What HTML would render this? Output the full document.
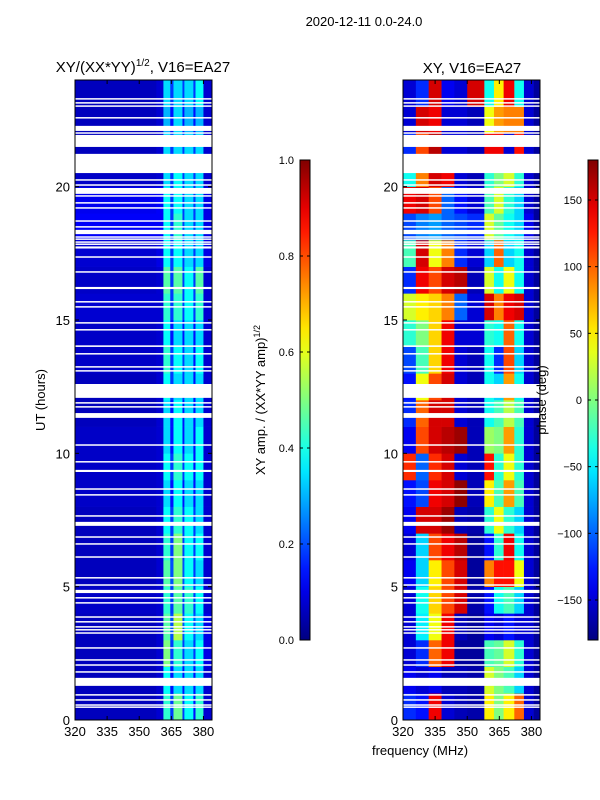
<!DOCTYPE html>
<html><head><meta charset="utf-8"><style>
html,body{margin:0;padding:0;background:#fff;}
svg{display:block;font-family:"Liberation Sans",sans-serif;}
</style></head><body>
<svg id="fig" width="600" height="800" xmlns="http://www.w3.org/2000/svg">
<rect x="0" y="0" width="600" height="800" fill="#fff"/>
<text x="364" y="26" font-size="13" text-anchor="middle">2020-12-11 0.0-24.0</text>
<text x="143" y="72" font-size="15" text-anchor="middle">XY/(XX*YY)<tspan font-size="10" dy="-6">1/2</tspan><tspan dy="6">, V16=EA27</tspan></text>
<text x="472" y="73" font-size="15" text-anchor="middle">XY, V16=EA27</text>
<text transform="translate(45,400) rotate(-90)" font-size="13" text-anchor="middle">UT (hours)</text>
<text transform="translate(265,400) rotate(-90)" font-size="13" text-anchor="middle">XY amp. / (XX*YY amp)<tspan font-size="9" dy="-5">1/2</tspan></text>
<text x="420" y="755" font-size="13" text-anchor="middle">frequency (MHz)</text>
<g id="ampPlot"></g>
<g id="phPlot"></g>
<g id="cb1"></g>
<g id="cb2"></g>
<text transform="translate(546,400) rotate(-90)" font-size="13" text-anchor="middle">phase (deg)</text>
</svg>
<script>
const xTicks=[320,335,350,365,380];
const yTicks=[0,5,10,15,20];
const ampTicks=[0.0,0.2,0.4,0.6,0.8,1.0];
const phTicks=[-150,-100,-50,0,50,100,150];
const ampFreqEdges=[320,358,361.3,364.5,366,370.2,371.1,375.3,376.3,380,384];
const ampRows=[
[0.06,0.08,0.42,0.18,0.48,0.18,0.38,0.14,0.42,0.08],
[0.06,0.08,0.38,0.14,0.34,0.14,0.34,0.14,0.34,0.08],
[0.06,0.08,0.5,0.18,0.42,0.18,0.34,0.18,0.38,0.1],
[0.06,0.08,0.46,0.2,0.55,0.2,0.38,0.2,0.34,0.1],
[0.07,0.08,0.42,0.18,0.46,0.18,0.42,0.18,0.38,0.08],
[0.06,0.08,0.46,0.2,0.5,0.2,0.38,0.18,0.34,0.08],
[0.06,0.08,0.42,0.18,0.5,0.18,0.38,0.18,0.38,0.08],
[0.06,0.08,0.38,0.18,0.42,0.18,0.38,0.18,0.34,0.08],
[0.07,0.08,0.34,0.14,0.38,0.14,0.34,0.14,0.34,0.08],
[0.07,0.08,0.38,0.18,0.42,0.18,0.38,0.14,0.38,0.08],
[0.07,0.08,0.34,0.14,0.38,0.14,0.34,0.14,0.38,0.08],
[0.06,0.08,0.34,0.14,0.38,0.14,0.34,0.14,0.34,0.08],
[0.06,0.08,0.38,0.18,0.34,0.18,0.34,0.14,0.34,0.08],
[0.07,0.08,0.42,0.18,0.38,0.18,0.34,0.14,0.38,0.08],
[0.07,0.08,0.38,0.14,0.34,0.14,0.34,0.14,0.34,0.08],
[0.08,0.08,0.42,0.18,0.42,0.18,0.38,0.18,0.42,0.08],
[0.07,0.08,0.46,0.18,0.46,0.18,0.38,0.18,0.46,0.08],
[0.08,0.1,0.38,0.18,0.38,0.18,0.34,0.18,0.34,0.1],
[0.12,0.12,0.38,0.18,0.42,0.18,0.34,0.18,0.34,0.1],
[0.11,0.12,0.38,0.18,0.38,0.18,0.34,0.18,0.34,0.1],
[0.07,0.08,0.34,0.18,0.38,0.18,0.34,0.18,0.34,0.08],
[0.06,0.08,0.34,0.18,0.34,0.18,0.34,0.18,0.34,0.08],
[0.06,0.08,0.3,0.14,0.34,0.14,0.3,0.14,0.3,0.08],
[0.06,0.08,0.34,0.18,0.34,0.18,0.34,0.18,0.38,0.08]
];
const phFreqEdges=[320,326,332,338,344,350,358,362.5,367,372,376.5,381,384];
const phRows=[
[-120,-130,140,-150,-160,-165,50,0,50,100,-150,-170],
[-140,-150,-140,-160,-160,-165,30,0,-20,-60,-150,-170],
[-150,-120,100,140,-170,-170,-20,-10,30,-30,-150,-170],
[-150,-50,40,140,-160,-170,-140,-150,-130,-150,-150,-170],
[-150,-40,60,110,150,-165,-130,-40,-20,-60,-150,-170],
[-140,-60,50,110,150,-170,90,130,130,40,-150,-170],
[-150,-60,110,140,160,-170,-130,-30,140,-40,-150,-170],
[-140,150,150,170,-160,-165,-30,40,-30,-60,-150,-170],
[-130,-110,140,150,175,-160,50,-20,80,-20,-150,-170],
[120,-100,120,150,-150,-160,130,-30,40,-30,-150,-170],
[-140,110,150,160,170,-160,10,0,80,-30,-150,-170],
[-120,100,150,150,-150,-160,-40,-20,20,-20,-150,-170],
[-130,40,110,150,-150,-160,-40,-60,80,-40,-150,-170],
[-110,-20,60,140,-150,-160,-40,-120,110,-60,-150,-170],
[-30,0,60,140,-150,-150,-30,-40,100,-40,-150,-170],
[30,50,60,90,-100,-150,150,90,140,150,-150,-170],
[-120,140,110,150,160,-160,30,-40,40,-40,-150,-170],
[-20,150,40,90,-120,-150,-60,100,-60,-40,-150,-170],
[-110,-90,-80,-100,-110,-120,30,-10,-40,-60,-140,-170],
[140,150,110,-100,-130,-150,-20,30,-30,-60,-150,-170],
[-40,90,150,140,-150,-160,-30,0,30,-30,-150,-170],
[-120,110,160,-150,-150,-160,140,140,-150,130,-150,-170],
[-150,150,140,-150,-150,-160,40,80,90,90,-150,-170],
[-150,-120,150,-140,-150,150,-40,50,140,-40,-150,-170]
];
const gaps=[[23.27,23.32],[23.12,23.17],[23.0,23.05],[22.56,22.61],[22.09,22.28],[21.99,22.04],[21.49,21.94],[20.51,21.23],[20.23,20.28],[20.04,20.09],[19.73,19.95],[19.63,19.68],[19.37,19.42],[19.18,19.23],[18.69,18.74],[18.47,18.52],[18.22,18.38],[18.09,18.14],[18.02,18.06],[17.91,17.95],[17.83,17.87],[17.68,17.76],[17.34,17.39],[16.78,16.83],[16.16,16.24],[15.66,15.71],[15.47,15.52],[14.87,14.92],[14.61,14.66],[13.99,14.05],[13.71,13.76],[13.22,13.27],[13.07,13.12],[12.08,12.6],[11.87,11.92],[11.72,11.77],[11.33,11.51],[10.29,10.34],[9.66,9.71],[9.3,9.38],[8.64,8.69],[8.42,8.47],[7.63,7.68],[7.28,7.43],[6.84,6.89],[6.58,6.63],[6.09,6.14],[5.31,5.36],[5.04,5.09],[4.76,4.88],[4.56,4.61],[4.37,4.42],[3.84,3.89],[3.66,3.71],[3.47,3.52],[3.36,3.41],[3.24,3.29],[2.68,2.73],[2.23,2.28],[2.04,2.09],[1.78,1.83],[1.28,1.58],[0.92,0.97],[0.73,0.78],[0.54,0.59],[0.47,0.51]];

const NS='http://www.w3.org/2000/svg';
function mk(tag,attrs,parent){const e=document.createElementNS(NS,tag);for(const k in attrs)e.setAttribute(k,attrs[k]);parent.appendChild(e);return e;}
function clip(v){return Math.max(0,Math.min(1,v));}
function jet(x){const r=clip(1.5-Math.abs(4*x-3)),g=clip(1.5-Math.abs(4*x-2)),b=clip(1.5-Math.abs(4*x-1));return 'rgb('+Math.round(r*255)+','+Math.round(g*255)+','+Math.round(b*255)+')';}
const T=80,B=720,H=B-T;
function yScale(h){return B-h/24*H;}
function makeX(left,w){return f=>left+(f-320)/64*w;}

function panel(g,left,w,edges,rows,norm){
  const xs=makeX(left,w);
  for(let i=0;i<rows.length;i++){
    for(let j=0;j<rows[i].length;j++){
      const x0=xs(edges[j]),x1=xs(edges[j+1]);
      const y0=yScale(i+1),y1=yScale(i);
      const r=mk('rect',{x:x0,y:y0,width:x1-x0+0.3,height:y1-y0+0.3,fill:jet(norm(rows[i][j]))},g);
      
      
    }
  }
  for(const gp of gaps){
    const y0=yScale(gp[1]),y1=yScale(gp[0]);
    const r=mk('rect',{x:left,y:y0,width:w,height:Math.max(1.5,y1-y0),fill:'#fff'},g);
    
    
  }
  const fr=mk('rect',{x:left,y:T,width:w,height:H,fill:'none',stroke:'#000','stroke-width':1},g);
  
  
  for(const t of xTicks){
    const x=xs(t);
    mk('line',{x1:x,x2:x,y1:B,y2:B-4,stroke:'#000'},g);
    mk('line',{x1:x,x2:x,y1:T,y2:T+4,stroke:'#000'},g);
    const tx=mk('text',{x:x,y:B+16,'font-size':13,'text-anchor':'middle'},g);
    tx.textContent=t;
    
    
  }
  for(const t of yTicks){
    const y=yScale(t);
    mk('line',{x1:left,x2:left+4,y1:y,y2:y,stroke:'#000'},g);
    mk('line',{x1:left+w,x2:left+w-4,y1:y,y2:y,stroke:'#000'},g);
    const tx=mk('text',{x:left-5,y:y+5,'font-size':13,'text-anchor':'end'},g);
    tx.textContent=t;
    
    
  }
}
panel(document.getElementById('ampPlot'),75,137,ampFreqEdges,ampRows,v=>v);
panel(document.getElementById('phPlot'),403,137,phFreqEdges,phRows,v=>(v+180)/360);

function colorbar(g,id,left,ticks,norm,fmt){
  const defs=mk('defs',{},g);
  const lg=mk('linearGradient',{id:id,x1:0,y1:1,x2:0,y2:0},defs);
  for(let k=0;k<=20;k++){mk('stop',{offset:(k/20),'stop-color':jet(k/20)},lg);}
  const cbT=160,cbH=480,w=10;
  const r=mk('rect',{x:left,y:cbT,width:w,height:cbH,fill:'url(#'+id+')',stroke:'#000','stroke-width':1},g);
  
  
  for(const t of ticks){
    const y=cbT+cbH-norm(t)*cbH;
    mk('line',{x1:left,x2:left+3,y1:y,y2:y,stroke:'#000'},g);
    mk('line',{x1:left+w,x2:left+w-3,y1:y,y2:y,stroke:'#000'},g);
    const tx=mk('text',{x:left-6,y:y+4,'font-size':11,'text-anchor':'end'},g);
    tx.textContent=fmt(t);
    
    
  }
}
colorbar(document.getElementById('cb1'),'g1',300,ampTicks,v=>v,v=>v.toFixed(1));
colorbar(document.getElementById('cb2'),'g2',588,phTicks,v=>(v+180)/360,v=>v<0?'\u2212'+Math.abs(v):String(v));
</script>
</body></html>
